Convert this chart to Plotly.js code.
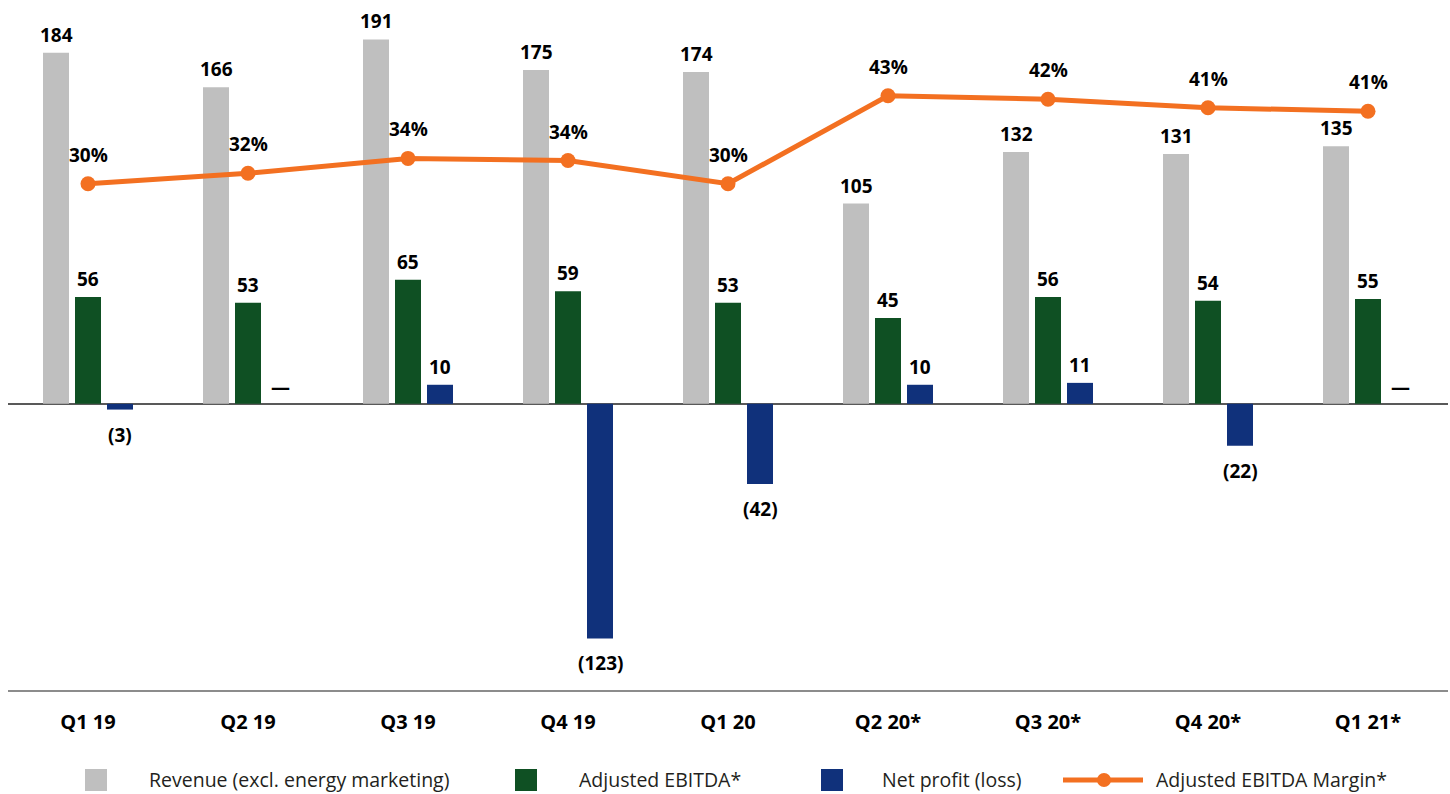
<!DOCTYPE html>
<html>
<head>
<meta charset="utf-8">
<script src="https://cdn.plot.ly/plotly-3.0.1.min.js"></script>
<style>html,body{margin:0;padding:0;background:#fff;}#chart{width:1450px;height:794px;}</style>
</head>
<body>
<div id="chart"></div>
<script>
// ---- data ----
const quarters = ["Q1 19","Q2 19","Q3 19","Q4 19","Q1 20","Q2 20*","Q3 20*","Q4 20*","Q1 21*"];
const revenue = [184,166,191,175,174,105,132,131,135];
const ebitda = [56,53,65,59,53,45,56,54,55];
const netProfit = [-3,0,10,-123,-42,10,11,-22,0];
const margin = [30.4,31.9,34.0,33.7,30.4,42.9,42.4,41.2,40.7];
const seriesNames = ["Revenue (excl. energy marketing)","Adjusted EBITDA*","Net profit (loss)","Adjusted EBITDA Margin*"];

// ---- styles ----
const C_GRAY = "#BFBFBF", C_GREEN = "#0F5023", C_BLUE = "#10317B", C_ORANGE = "#F37021";
const FONT = "Open Sans, Noto Sans, sans-serif";
const W = 1450, H = 794, ML = 8, MR = 2, MT = 0, MB = 104;
const PW = W - ML - MR, PH = H - MT - MB;
const px2x = p => (p - ML) / PW;
const px2y = p => (H - MB - p) / PH;

const traces = [
  {type:"bar", name:seriesNames[0], x:quarters, y:revenue, marker:{color:C_GRAY}, hoverinfo:"x+y"},
  {type:"bar", name:seriesNames[1], x:quarters, y:ebitda, marker:{color:C_GREEN}, hoverinfo:"x+y"},
  {type:"bar", name:seriesNames[2], x:quarters, y:netProfit, marker:{color:C_BLUE}, hoverinfo:"x+y"},
  {type:"scatter", mode:"lines+markers", name:seriesNames[3], x:quarters, y:margin, yaxis:"y2",
   line:{color:C_ORANGE, width:5}, marker:{color:C_ORANGE, size:15}, hoverinfo:"x+y"}
];

const fmt = v => v < 0 ? "(" + (-v) + ")" : (v === 0 ? "—" : String(v));
const annotations = [];
const labelFont = {family:FONT, size:19, color:"#000", weight:"bold"};
const barSets = [[revenue,-32],[ebitda,0],[netProfit,32]];
barSets.forEach(([arr, dx]) => {
  arr.forEach((v, i) => {
    const neg = v < 0;
    annotations.push({
      x: quarters[i], y: v, xref:"x", yref:"y", xshift: dx,
      yanchor: neg ? "top" : "bottom", yshift: neg ? -10 : (v === 0 ? 2 : 3),
      text: "<b>" + fmt(v) + "</b>", showarrow:false, font: labelFont
    });
  });
});
margin.forEach((v, i) => {
  annotations.push({
    x: quarters[i], y: v, xref:"x", yref:"y2", yanchor:"bottom", yshift: 14,
    text: "<b>" + Math.round(v) + "%</b>", showarrow:false, font: labelFont
  });
});

// custom legend
const shapes = [];
const legendY = 780;
const legendFont = {family:FONT, size:19.5, color:"#231F20"};
const boxItems = [[85, 147, C_GRAY, seriesNames[0]],[515, 577, C_GREEN, seriesNames[1]],[821, 880, C_BLUE, seriesNames[2]]];
boxItems.forEach(([bx, tx, col, name]) => {
  shapes.push({type:"rect", xref:"paper", yref:"paper", x0:px2x(bx), x1:px2x(bx+22), y0:px2y(legendY-11), y1:px2y(legendY+11),
    fillcolor:col, line:{width:0}});
  annotations.push({xref:"paper", yref:"paper", x:px2x(tx), y:px2y(legendY), xanchor:"left", yanchor:"middle",
    text:name, showarrow:false, font:legendFont});
});
shapes.push({type:"line", xref:"paper", yref:"paper", x0:px2x(1063), x1:px2x(1143), y0:px2y(legendY), y1:px2y(legendY),
  line:{color:C_ORANGE, width:5}});
shapes.push({type:"circle", xref:"paper", yref:"paper", x0:px2x(1097), x1:px2x(1111), y0:px2y(legendY-7), y1:px2y(legendY+7),
  fillcolor:C_ORANGE, line:{width:0}});
annotations.push({xref:"paper", yref:"paper", x:px2x(1154), y:px2y(legendY), xanchor:"left", yanchor:"middle",
  text:seriesNames[3], showarrow:false, font:legendFont});

const layout = {
  width:W, height:H, margin:{l:ML, r:MR, t:MT, b:MB, pad:0},
  paper_bgcolor:"#fff", plot_bgcolor:"#fff",
  barmode:"group", bargap:0.4, bargroupgap:0.1875,
  showlegend:false,
  font:{family:FONT},
  xaxis:{type:"category", range:[-0.5, 8.5], showgrid:false, zeroline:false,
    showline:true, linecolor:"#8C8C8C", linewidth:2, ticks:"", ticklabelstandoff:13,
    tickfont:{family:FONT, size:20, color:"#000", weight:"bold"}, fixedrange:true},
  yaxis:{range:[-150, 211.7], showgrid:false, showticklabels:false, ticks:"",
    zeroline:true, zerolinecolor:"#595959", zerolinewidth:2, showline:false, fixedrange:true},
  yaxis2:{range:[-41.5, 56.5], overlaying:"y", side:"right", showgrid:false, showticklabels:false,
    zeroline:false, showline:false, ticks:"", fixedrange:true},
  annotations: annotations,
  shapes: shapes
};

Plotly.newPlot("chart", traces, layout, {displayModeBar:false, staticPlot:true});
</script>
</body>
</html>
